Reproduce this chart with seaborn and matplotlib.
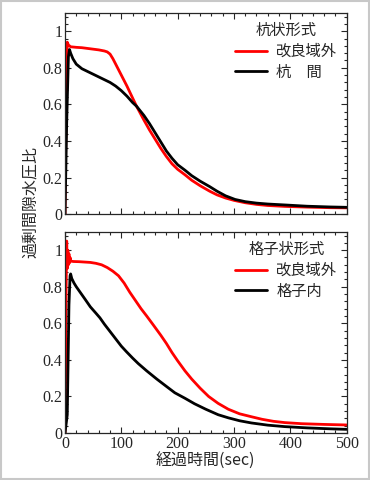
import numpy as np
import pandas as pd
import seaborn as sns
import matplotlib.pyplot as plt
from matplotlib import font_manager
from matplotlib.ticker import MultipleLocator, FuncFormatter
from matplotlib.patches import Rectangle

# upper panel: pile type
t_pile_out = [0, 2, 4, 6, 10, 20, 30, 40, 50, 60, 70, 75, 80, 85, 90, 100, 110, 120, 127,
              140, 150, 160, 170, 180, 190, 200, 213, 225, 240, 257, 270, 285, 300, 320,
              340, 360, 390, 430, 470, 500]
u_pile_out = [0, 0.6, 0.94, 0.925, 0.915, 0.912, 0.91, 0.906, 0.902, 0.898, 0.892, 0.887,
              0.875, 0.85, 0.82, 0.76, 0.70, 0.635, 0.59, 0.515, 0.46, 0.41, 0.36, 0.315,
              0.275, 0.245, 0.215, 0.185, 0.155, 0.125, 0.105, 0.088, 0.075, 0.062, 0.053,
              0.047, 0.042, 0.038, 0.035, 0.034]
t_pile_in = [0, 3, 6, 8, 10, 14, 20, 30, 40, 50, 60, 70, 80, 90, 100, 110, 120, 127, 140,
             150, 160, 170, 180, 190, 200, 213, 225, 240, 257, 270, 285, 302, 320, 340,
             360, 390, 430, 470, 500]
u_pile_in = [0, 0.5, 0.86, 0.9, 0.88, 0.85, 0.82, 0.795, 0.78, 0.765, 0.75, 0.735, 0.72,
             0.7, 0.675, 0.645, 0.61, 0.59, 0.54, 0.495, 0.445, 0.395, 0.345, 0.305, 0.27,
             0.24, 0.21, 0.18, 0.15, 0.125, 0.1, 0.08, 0.068, 0.06, 0.055, 0.05, 0.043,
             0.039, 0.037]

# lower panel: grid type
t_grid_out = [0, 1, 2, 3, 4, 5, 6, 7, 8, 9, 10, 15, 25, 35, 45, 55, 65, 75, 85, 95, 105,
              115, 125, 135, 145, 157, 170, 180, 190, 200, 213, 225, 240, 255, 272, 290,
              310, 331, 350, 370, 390, 420, 460, 500]
u_grid_out = [0, 0.3, 0.8, 1.05, 0.9, 1.0, 0.92, 0.98, 0.93, 0.96, 0.94, 0.938, 0.937,
              0.935, 0.933, 0.928, 0.92, 0.905, 0.885, 0.86, 0.82, 0.77, 0.725, 0.68, 0.64,
              0.59, 0.535, 0.49, 0.44, 0.395, 0.34, 0.295, 0.245, 0.2, 0.162, 0.13, 0.105,
              0.089, 0.075, 0.064, 0.057, 0.051, 0.047, 0.044]
t_grid_in = [0, 4, 7, 9, 10, 12, 16, 20, 28, 36, 45, 55, 62, 70, 80, 90, 100, 109, 120,
             130, 145, 163, 180, 195, 213, 230, 250, 272, 290, 310, 331, 360, 390, 430,
             470, 500]
u_grid_in = [0, 0.1, 0.7, 0.86, 0.87, 0.845, 0.82, 0.8, 0.765, 0.73, 0.69, 0.655, 0.63,
             0.595, 0.555, 0.515, 0.475, 0.445, 0.41, 0.38, 0.34, 0.295, 0.255, 0.22, 0.19,
             0.16, 0.13, 0.1, 0.083, 0.067, 0.055, 0.043, 0.035, 0.028, 0.023, 0.02]

panels = [
    ("杭状形式", [("改良域外", t_pile_out, u_pile_out), ("杭　間", t_pile_in, u_pile_in)]),
    ("格子状形式", [("改良域外", t_grid_out, u_grid_out), ("格子内", t_grid_in, u_grid_in)]),
]

sns.set_style("ticks")
names_avail = {f.name for f in font_manager.fontManager.ttflist}
serif = 'Liberation Serif' if 'Liberation Serif' in names_avail else 'DejaVu Serif'
print(serif, sorted(n for n in names_avail if 'Serif' in n or 'Times' in n))
plt.rcParams['font.family'] = [serif, 'Noto Sans CJK JP']
jp = ['Noto Sans CJK JP', 'DejaVu Sans']

fig = plt.figure(figsize=(3.7, 4.8), dpi=100)
fig.patches.append(Rectangle((0.003, 0.003), 0.994, 0.994, transform=fig.transFigure,
                             fill=False, edgecolor='#c8c8c8', linewidth=1.5))

axes = [fig.add_axes([0.1757, 0.554, 0.761, 0.419]),
        fig.add_axes([0.1757, 0.0979, 0.761, 0.419])]

for ax, (title, series) in zip(axes, panels):
    df = pd.concat([pd.DataFrame({"t": t, "u": u, "s": name}) for name, t, u in series])
    names = [s[0] for s in series]
    sns.lineplot(data=df, x="t", y="u", hue="s", hue_order=names, estimator=None,
                 sort=False, palette=["#ff0000", "#000000"], linewidth=2, ax=ax)
    ax.set_xlim(0, 500)
    ax.set_ylim(0, 1.1)
    ax.xaxis.set_major_locator(MultipleLocator(100))
    ax.xaxis.set_minor_locator(MultipleLocator(20))
    ax.yaxis.set_major_locator(MultipleLocator(0.2))
    ax.yaxis.set_minor_locator(MultipleLocator(0.04))
    ax.yaxis.set_major_formatter(FuncFormatter(lambda v, p: f"{v:g}"))
    ax.tick_params(which='both', direction='in', top=True, right=True, width=0.8,
                   labelsize=11.5, pad=2, labelfontfamily=serif)
    ax.tick_params(which='major', length=4)
    ax.tick_params(which='minor', length=2)
    for sp in ax.spines.values():
        sp.set_linewidth(0.9)
    ax.set_xlabel("")
    ax.set_ylabel("")
    handles, labels = ax.get_legend_handles_labels()
    leg = ax.legend(handles, labels, title=title, loc='upper right', frameon=False,
                    prop={'family': jp, 'size': 11}, title_fontproperties={'family': jp, 'size': 11},
                    handlelength=2.1, handletextpad=0.6, labelspacing=0.25,
                    borderaxespad=0.2)
    for h in leg.legend_handles:
        h.set_linewidth(2)

axes[0].tick_params(labelbottom=False)
axes[1].set_xlabel("経過時間(sec)", fontsize=11.5, family=jp, labelpad=1)
fig.text(30 / 370, 1 - 202 / 480, "過剰間隙水圧比", rotation=90, ha='center', va='center',
         fontsize=11.5, family=jp)

fig.savefig("out.png", dpi=100)
